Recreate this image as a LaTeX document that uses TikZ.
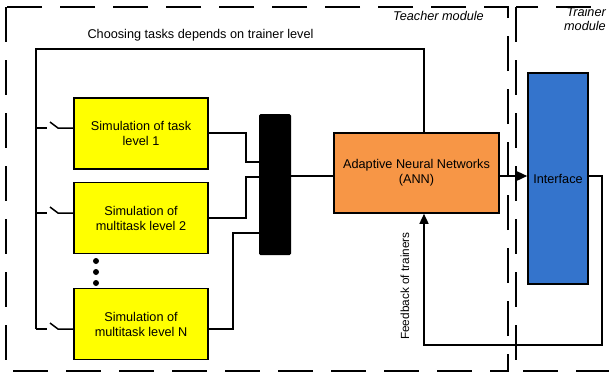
\documentclass[tikz,border=0pt]{standalone}
\usepackage{fontspec}
\setmainfont{Liberation Sans}
\usetikzlibrary{arrows.meta}

\definecolor{simyellow}{HTML}{FFFF00}
\definecolor{annorange}{HTML}{F79646}
\definecolor{ifaceblue}{HTML}{3474CC}

\tikzset{
  module/.style={line width=2.2pt, dash pattern=on 35pt off 18pt},
  block/.style={draw, line width=1.6pt, inner sep=0pt, align=center,
                font=\fontsize{12.7}{15}\selectfont},
  simbox/.style={block, fill=simyellow, minimum width=134pt, minimum height=71pt},
  wire/.style={line width=1.5pt},
  tip/.style={-{Triangle[length=10pt,width=9pt]}},
  lbl/.style={font=\fontsize{12.7}{15}\selectfont, inner sep=0pt},
  modlbl/.style={font=\fontsize{12.7}{14}\itshape, inner sep=0pt, align=right},
}

\begin{document}
\begin{tikzpicture}[x=1pt,y=-1pt]
  \clip (0,0) rectangle (609,376);
  \fill[white] (0,0) rectangle (609,376);

  % module frames
  \draw[module] (6,7) rectangle (508,371);
  \draw[module] (516,7) rectangle (640,371);
  \node[modlbl, anchor=east] (teachlbl) at (484,16) {Teacher module};
  \node[modlbl, anchor=north east] (trainlbl) at (606,7) {Trainer\\module};

  % blocks
  \node[simbox] (sim1) at (141,133.5) {Simulation of task\\level 1};
  \node[simbox] (sim2) at (141,218) {Simulation of\\multitask level 2};
  \node[simbox] (simN) at (141,324) {Simulation of\\multitask level N};
  \node[fill=black, rounded corners=1.5pt, minimum width=32pt, minimum height=141pt,
        inner sep=0pt] (bar) at (275,184.5) {};
  \node[block, fill=annorange, minimum width=165pt, minimum height=80pt] (ann)
        at (416.5,173) {Adaptive Neural Networks\\(ANN)};
  \node[block, fill=ifaceblue, minimum width=60pt, minimum height=211pt] (iface)
        at (558,178.5) {Interface};

  % dots between level 2 and level N
  \foreach \yy/\nm in {261/d1,272/d2,283/d3}
    \fill (96,\yy) circle (3pt) coordinate (\nm);

  % task selection bus
  \coordinate (bustop) at (36,49);
  \coordinate (busbot) at (36,329);
  \coordinate (selend) at (424,49);
  \draw[wire] (busbot) -- (bustop) -- (selend) -- (selend |- ann.north);
  \node[lbl] (sellbl) at (200.5,35) {Choosing tasks depends on trainer level};

  % switches feeding each simulation block
  \foreach \blk/\yy in {sim1/128, sim2/213, simN/329}{
    \coordinate (sa-\blk) at (36,\yy);
    \coordinate (sb-\blk) at (47,\yy);
    \coordinate (sc-\blk) at (50,\yy-6);
    \coordinate (sd-\blk) at (58,\yy);
    \draw[wire] (sa-\blk) -- (sb-\blk);
    \draw[wire] (sc-\blk) -- (sd-\blk) -- (sd-\blk -| \blk.west);
  }

  % outputs into the multiplexer bar
  \coordinate (j1) at (246,133);
  \coordinate (j2) at (246,218);
  \coordinate (j3) at (233,329);
  \draw[wire] (sim1.east |- j1) -- (j1) -- (j1 |- 0,162) -- (bar.west |- 0,162);
  \draw[wire] (sim2.east |- j2) -- (j2) -- (j2 |- 0,177) -- (bar.west |- 0,177);
  \draw[wire] (simN.east |- j3) -- (j3) -- (j3 |- 0,233) -- (bar.west |- 0,233);

  % bar -> ANN -> Interface
  \draw[wire] (bar.east |- 0,176) -- (ann.west |- 0,176);
  \draw[wire, tip] (ann.east |- 0,176) -- (iface.west |- 0,176);

  % feedback loop
  \coordinate (fb1) at (602,176);
  \coordinate (fb2) at (602,345);
  \coordinate (fb3) at (424,345);
  \draw[wire, tip] (iface.east |- fb1) -- (fb1) -- (fb2) -- (fb3) -- (fb3 |- ann.south);
  \node[lbl, rotate=90, font=\fontsize{11.8}{14}\selectfont] (fblbl) at (405,286)
        {Feedback of trainers};
\end{tikzpicture}
\end{document}
